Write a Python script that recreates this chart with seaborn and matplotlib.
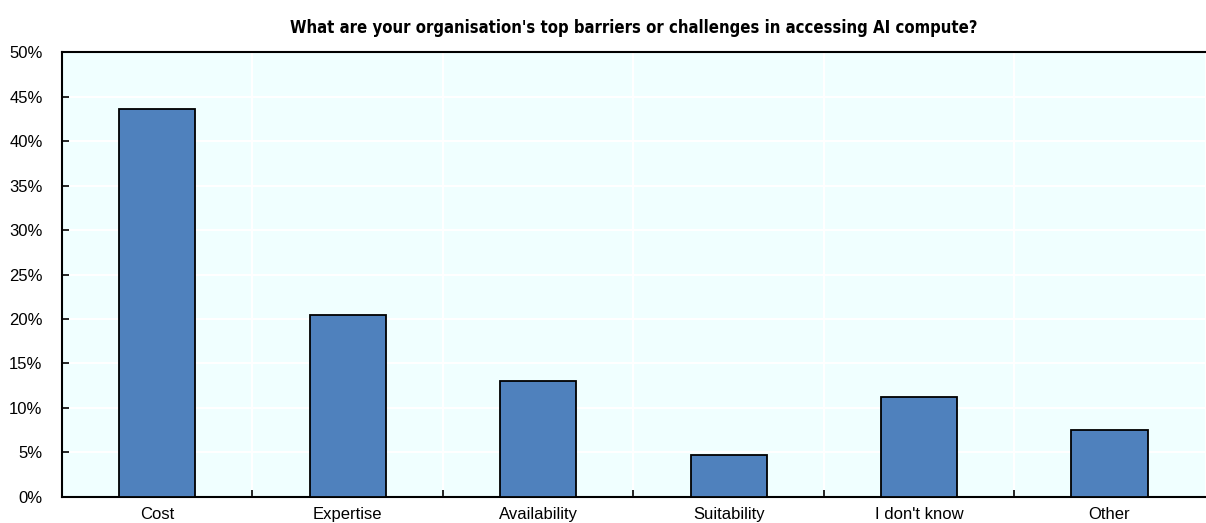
import matplotlib
matplotlib.use("Agg")
import matplotlib.pyplot as plt
from matplotlib import font_manager
import seaborn as sns
import pandas as pd
from matplotlib.ticker import FixedLocator, PercentFormatter

# Chart data
categories = ["Cost", "Expertise", "Availability", "Suitability", "I don't know", "Other"]
shares = [43.6, 20.4, 13.0, 4.7, 11.2, 7.5]
title = "What are your organisation's top barriers or challenges in accessing AI compute?"

df = pd.DataFrame({"category": categories, "share": shares})

sns.set_style("white")
plt.rcParams["font.family"] = ["Liberation Sans", "DejaVu Sans"]
plt.rcParams["text.color"] = "black"
plt.rcParams["xtick.color"] = "black"
plt.rcParams["ytick.color"] = "black"

# narrow bold face for the title if one is installed
names = {f.name for f in font_manager.fontManager.ttflist}
narrow = [f for f in font_manager.fontManager.ttflist
          if "Narrow" in f.name or "Condensed" in f.name or f.stretch in ("condensed", "semi-condensed", 600, 750)]
if "Liberation Sans Narrow" in names:
    title_font = dict(family=["Liberation Sans Narrow", "DejaVu Sans"], fontsize=12.5)
elif narrow:
    title_font = dict(family=[narrow[0].name, "DejaVu Sans"], fontstretch="condensed", fontsize=12.0)
else:
    title_font = dict(family=["Liberation Sans", "DejaVu Sans"], fontsize=11.5)

fig, ax = plt.subplots(figsize=(12.06, 5.23), dpi=100)
fig.subplots_adjust(left=0.0514, right=0.999, top=0.90, bottom=0.05)

ax.set_facecolor("#F0FFFF")
sns.barplot(data=df, x="category", y="share", color="#4F81BD", width=0.40,
            edgecolor="black", linewidth=1.3, saturation=1, ax=ax, zorder=3)

ax.set_ylim(0, 50)
ax.set_xlim(-0.5, len(categories) - 0.5)
ax.set_yticks(range(0, 51, 5))
ax.yaxis.set_major_formatter(PercentFormatter(decimals=0))
ax.xaxis.set_minor_locator(FixedLocator([i + 0.5 for i in range(len(categories) - 1)]))

ax.grid(axis="y", which="major", color="white", linewidth=1.5, zorder=0)
ax.grid(axis="x", which="minor", color="white", linewidth=1.5, zorder=0)
ax.set_axisbelow(True)

for side in ["left", "bottom", "top"]:
    ax.spines[side].set_visible(True)
    ax.spines[side].set_color("black")
    ax.spines[side].set_linewidth(1.5)
ax.spines["right"].set_visible(False)

ax.tick_params(axis="y", direction="in", length=5, width=1.2, labelsize=12, pad=14, left=True)
ax.tick_params(axis="x", which="major", length=0, labelsize=12, pad=7)
ax.tick_params(axis="x", which="minor", direction="in", length=5, width=1.2, bottom=True)

ax.set_xlabel("")
ax.set_ylabel("")
ax.set_title(title, fontweight="bold", pad=14, color="black", **title_font)

fig.savefig("out.png", dpi=100)
